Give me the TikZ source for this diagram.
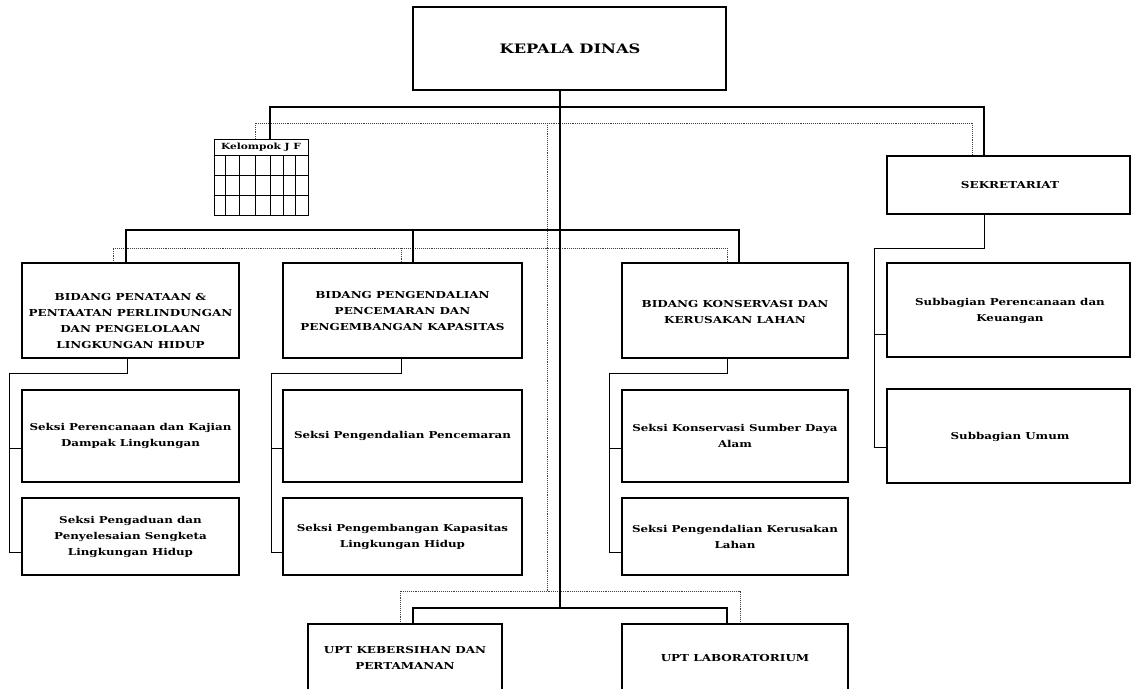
\documentclass[tikz,border=0pt]{standalone}
\usepackage{fontspec}
\setmainfont{DejaVu Serif}[FakeStretch=1.25]
\usetikzlibrary{calc}
\tikzset{
  box/.style={draw=black, line width=1.1pt, rectangle, inner sep=0pt, fill=white},
  capt/.style={font=\fontsize{9.6}{16}\selectfont\bfseries, align=center, inner sep=0pt},
  mixt/.style={font=\fontsize{9.5}{16}\selectfont\bfseries, align=center, inner sep=0pt},
  thickln/.style={line width=2pt, black},
  thinln/.style={line width=1pt, black},
  dotln/.style={line width=0.9pt, densely dotted, black!75},
  gridln/.style={line width=0.9pt, black}
}
\begin{document}
\begin{tikzpicture}[x=1pt,y=-1pt]
\useasboundingbox (0,0) rectangle (1131,688);
\clip (0,0) rectangle (1131,688);

% ---------- coordinates of junctions ----------
\coordinate (tl) at (270,107);
\coordinate (tr) at (984,107);
\coordinate (dtl) at (255,123);
\coordinate (dtr) at (972,123);
\coordinate (dc) at (547,123);
\coordinate (dcb) at (547,591);
\coordinate (ctop) at (560,90);
\coordinate (cbot) at (560,608);
\coordinate (bl) at (126,230);
\coordinate (bm) at (413,230);
\coordinate (br) at (739,230);
\coordinate (dbl) at (113,248);
\coordinate (dbm) at (401,248);
\coordinate (dbr) at (727,248);
\coordinate (ul) at (413,608);
\coordinate (ur) at (727,608);
\coordinate (dul) at (400,591);
\coordinate (dur) at (740,591);

% ---------- connectors (drawn first) ----------
% dotted lines
\draw[dotln] (255,139) -- (dtl) -- (dtr) -- (972,156);
\draw[dotln] (dc) -- (dcb);
\draw[dotln] (113,263) -- (dbl) -- (dbr) -- (727,263);
\draw[dotln] (dbm) -- (401,263);
\draw[dotln] (400,624) -- (dul) -- (dur) -- (740,624);

% thick solid lines
\draw[thickln] (ctop) -- (cbot);
\draw[thickln] (270,139) -- (tl) -- (tr) -- (984,156);
\draw[thickln] (126,263) -- (bl) -- (br) -- (739,263);
\draw[thickln] (bm) -- (413,263);
\draw[thickln] (413,624) -- (ul) -- (ur) -- (727,624);

% ---------- boxes ----------
\node[box, minimum width=313pt, minimum height=83pt] (kd) at (569.5,48.5) {};
\node[capt, font=\fontsize{13}{18}\selectfont\bfseries] (kdt) at (570,49) {KEPALA DINAS};

% Kelompok J F
\node[box, line width=0.9pt, minimum width=94pt, minimum height=16pt] (kjf) at (261,147) {};
\node[capt, font=\fontsize{8.5}{12}\selectfont\bfseries] (kjft) at (261,147.5) {Kelompok J F};
\draw[gridln] (214,155) rectangle (308,215);
\foreach \yy in {175,195} \draw[gridln] (214,\yy) -- (308,\yy);
\foreach \xx in {225,239,255,270,283,295} \draw[gridln] (\xx,155) -- (\xx,215);

% Sekretariat column
\node[box, minimum width=243pt, minimum height=58pt] (sek) at (1008.5,185) {};
\node[capt] (sekt) at (1010,185) {SEKRETARIAT};
\node[box, minimum width=243pt, minimum height=94pt] (sp) at (1008.5,310) {};
\node[mixt] (spt) at (1010,311) {Subbagian Perencanaan dan\\Keuangan};
\node[box, minimum width=243pt, minimum height=94pt] (su) at (1008.5,436) {};
\node[mixt] (sut) at (1010,437) {Subbagian Umum};

% Bidang
\node[box, minimum width=217pt, minimum height=95pt] (b1) at (130.5,310.5) {};
\node[capt] (b1t) at (130.5,321) {BIDANG PENATAAN \&\\PENTAATAN PERLINDUNGAN\\DAN PENGELOLAAN\\LINGKUNGAN HIDUP};
\node[box, minimum width=239pt, minimum height=95pt] (b2) at (402.5,310.5) {};
\node[capt] (b2t) at (402.5,311) {BIDANG PENGENDALIAN\\PENCEMARAN DAN\\PENGEMBANGAN KAPASITAS};
\node[box, minimum width=226pt, minimum height=95pt] (b3) at (735,310.5) {};
\node[capt] (b3t) at (735,312) {BIDANG KONSERVASI DAN\\KERUSAKAN LAHAN};

% Seksi
\node[box, minimum width=217pt, minimum height=92pt] (s11) at (130.5,436) {};
\node[mixt] (s11t) at (130.5,436) {Seksi Perencanaan dan Kajian\\Dampak Lingkungan};
\node[box, minimum width=217pt, minimum height=77pt] (s12) at (130.5,536.5) {};
\node[mixt] (s12t) at (130.5,537) {Seksi Pengaduan dan\\Penyelesaian Sengketa\\Lingkungan Hidup};
\node[box, minimum width=239pt, minimum height=92pt] (s21) at (402.5,436) {};
\node[mixt] (s21t) at (402.5,436) {Seksi Pengendalian Pencemaran};
\node[box, minimum width=239pt, minimum height=77pt] (s22) at (402.5,536.5) {};
\node[mixt] (s22t) at (402.5,537) {Seksi Pengembangan Kapasitas\\Lingkungan Hidup};
\node[box, minimum width=226pt, minimum height=92pt] (s31) at (735,436) {};
\node[mixt] (s31t) at (735,436) {Seksi Konservasi Sumber Daya\\Alam};
\node[box, minimum width=226pt, minimum height=77pt] (s32) at (735,536.5) {};
\node[mixt] (s32t) at (735,537) {Seksi Pengendalian Kerusakan\\Lahan};

% UPT
\node[box, minimum width=194pt, minimum height=70pt] (u1) at (405,659) {};
\node[capt] (u1t) at (405,658) {UPT KEBERSIHAN DAN\\PERTAMANAN};
\node[box, minimum width=226pt, minimum height=70pt] (u2) at (735,659) {};
\node[capt] (u2t) at (735,658) {UPT LABORATORIUM};

% ---------- thin connectors to sub units ----------
\coordinate (k1) at (9,373);
\coordinate (k2) at (271,373);
\coordinate (k3) at (609,373);
\coordinate (k4) at (874,248);
\draw[thinln] (b1.south -| 127,0) -- (127,373) -- (k1) -- (9,552) -- (s12.west |- 0,552);
\draw[thinln] (9,448) -- (s11.west |- 0,448);
\draw[thinln] (b2.south -| 401,0) -- (401,373) -- (k2) -- (271,552) -- (s22.west |- 0,552);
\draw[thinln] (271,448) -- (s21.west |- 0,448);
\draw[thinln] (b3.south -| 727,0) -- (727,373) -- (k3) -- (609,552) -- (s32.west |- 0,552);
\draw[thinln] (609,448) -- (s31.west |- 0,448);
\draw[thinln] (sek.south -| 984,0) -- (984,248) -- (k4) -- (874,447) -- (su.west |- 0,447);
\draw[thinln] (874,334) -- (sp.west |- 0,334);
\end{tikzpicture}
\end{document}
